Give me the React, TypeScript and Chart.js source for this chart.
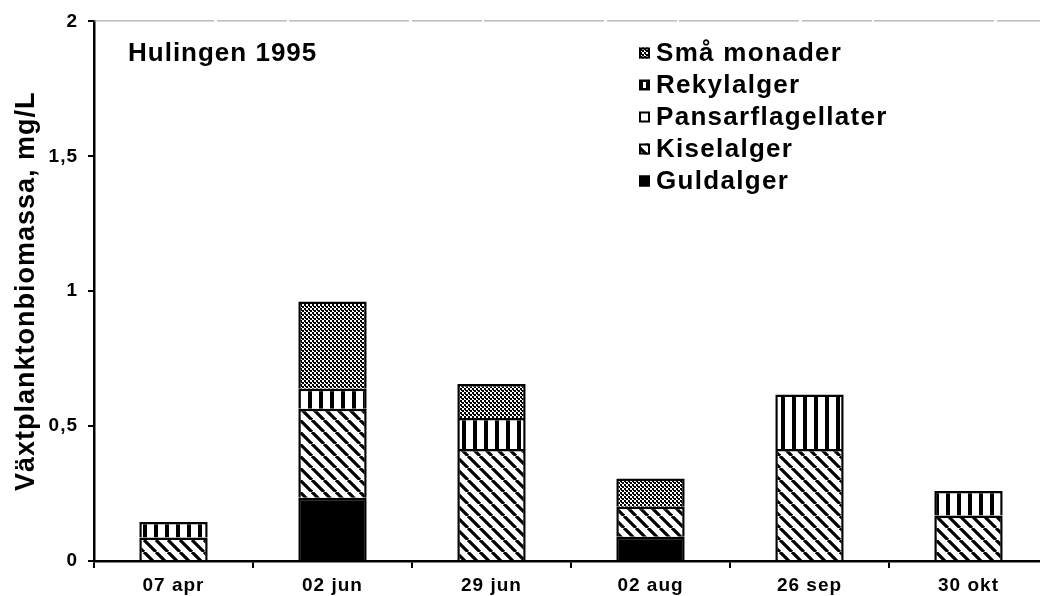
import React, { useEffect, useRef } from "react";
import { Chart, registerables } from "chart.js";

Chart.register(...registerables);

const categories = ["07 apr", "02 jun", "29 jun", "02 aug", "26 sep", "30 okt"];
const guldalger = [0, 0.234, 0, 0.09, 0, 0];
const kiselalger = [0.087, 0.33, 0.415, 0.111, 0.415, 0.169];
const pansarflagellater = [0, 0, 0, 0, 0, 0];
const rekylalger = [0.058, 0.074, 0.115, 0, 0.202, 0.09];
const smaMonader = [0, 0.324, 0.126, 0.105, 0, 0];
const seriesLabels = ["Guldalger", "Kiselalger", "Pansarflagellater", "Rekylalger", "Små monader"];
const yTickLabels = ["0", "0,5", "1", "1,5", "2"];
const yAxisTitle = "Växtplanktonbiomassa, mg/L";
const chartLabel = "Hulingen 1995";

const FONT = '"Liberation Sans", Arial, Helvetica, sans-serif';

function makePattern(ctx: CanvasRenderingContext2D, kind: string): CanvasPattern | string {
  const c = document.createElement("canvas");
  const t = c.getContext("2d") as CanvasRenderingContext2D;
  if (kind === "dots") {
    c.width = 4; c.height = 4;
    t.fillStyle = "#fff"; t.fillRect(0, 0, 4, 4);
    t.fillStyle = "#000";
    t.fillRect(0, 0, 2, 2); t.fillRect(2, 2, 2, 2);
    t.fillRect(1, 2, 1, 1);
  } else if (kind === "vstripes") {
    c.width = 11; c.height = 4;
    t.fillStyle = "#fff"; t.fillRect(0, 0, 11, 4);
    t.fillStyle = "#000"; t.fillRect(0, 0, 4, 4);
  } else if (kind === "diag") {
    c.width = 12; c.height = 12;
    t.fillStyle = "#fff"; t.fillRect(0, 0, 12, 12);
    t.strokeStyle = "#000"; t.lineWidth = 3.2;
    t.beginPath();
    for (const k of [-12, 0, 12]) { t.moveTo(k, 0); t.lineTo(k + 12, 12); }
    t.stroke();
  } else {
    return kind;
  }
  return ctx.createPattern(c, "repeat") as CanvasPattern;
}

export default function App() {
  const ref = useRef<HTMLCanvasElement | null>(null);

  useEffect(() => {
    const canvas = ref.current;
    if (!canvas) return;
    const ctx = canvas.getContext("2d") as CanvasRenderingContext2D;
    const fills = [
      makePattern(ctx, "#000"),
      makePattern(ctx, "diag"),
      makePattern(ctx, "#fff"),
      makePattern(ctx, "vstripes"),
      makePattern(ctx, "dots"),
    ];
    const series = [guldalger, kiselalger, pansarflagellater, rekylalger, smaMonader];

    const spacingPlugin = {
      id: "spacing",
      beforeUpdate(chart: any) { chart.ctx.letterSpacing = "1px"; },
      beforeDraw(chart: any) { chart.ctx.letterSpacing = "1px"; },
    };

    const decorPlugin = {
      id: "decor",
      afterDraw(chart: any) {
        const c = chart.ctx as CanvasRenderingContext2D;
        const area = chart.chartArea;
        c.save();
        // top frame line
        c.strokeStyle = "#999";
        c.lineWidth = 1;
        c.setLineDash([120, 3, 70, 2]);
        c.beginPath();
        c.moveTo(area.left, area.top - 0.5);
        c.lineTo(chart.width, area.top - 0.5);
        c.stroke();
        c.setLineDash([]);
        // label
        c.fillStyle = "#000";
        (c as any).letterSpacing = "1px";
        c.font = `bold 26px ${FONT}`;
        c.textBaseline = "middle";
        c.textAlign = "left";
        c.fillText(chartLabel, 128, 54);
        // legend
        (c as any).letterSpacing = "1.3px";
        const order = [4, 3, 2, 1, 0];
        order.forEach((di, row) => {
          const ds = chart.data.datasets[di];
          const y = 53 + row * 32;
          const bx = 639, by = y - 5.5, bs = 11;
          if (di === 3) {
            c.fillStyle = "#000"; c.fillRect(bx, by, bs, bs);
            c.fillStyle = "#fff"; c.fillRect(bx + 4, by + 2.5, 3, bs - 5);
          } else {
            c.fillStyle = ds.backgroundColor;
            c.fillRect(bx, by, bs, bs);
            c.strokeStyle = "#000"; c.lineWidth = 2;
            c.strokeRect(bx + 1, by + 1, bs - 2, bs - 2);
          }
          c.fillStyle = "#000";
          c.fillText(ds.label, 656, y + 1);
        });
        c.restore();
      },
    };

    const chart = new Chart(canvas, {
      type: "bar",
      data: {
        labels: categories,
        datasets: series.map((d, i) => ({
          label: seriesLabels[i],
          data: d,
          backgroundColor: fills[i] as any,
          borderColor: "#000",
          borderWidth: { top: 2.5, bottom: 0, left: 2.5, right: 2.5 },
          borderSkipped: false,
          categoryPercentage: 0.43,
          barPercentage: 1.0,
        })),
      },
      options: {
        responsive: false,
        animation: false,
        devicePixelRatio: 1,
        layout: { padding: { top: 21, right: 2, left: 0, bottom: 0 } },
        plugins: {
          legend: { display: false },
          tooltip: { enabled: false },
          title: { display: false },
        },
        scales: {
          x: {
            stacked: true,
            offset: true,
            grid: {
              display: true,
              offset: true,
              drawOnChartArea: false,
              drawTicks: true,
              tickLength: 7,
              color: "#000",
              lineWidth: 2,
            },
            border: { display: true, color: "#000", width: 2.5 },
            ticks: {
              color: "#000",
              font: { family: FONT, size: 19, weight: "bold" },
              padding: 6,
              maxRotation: 0,
              autoSkip: false,
            },
            afterFit: (s: any) => { s.height = 35; },
          },
          y: {
            stacked: true,
            min: 0,
            max: 2,
            ticks: {
              stepSize: 0.5,
              color: "#000",
              font: { family: FONT, size: 19, weight: "bold" },
              padding: 10,
              callback: (_v: any, i: number) => yTickLabels[i],
            },
            grid: {
              drawOnChartArea: false,
              drawTicks: true,
              tickLength: 6,
              color: "#000",
              lineWidth: 2,
            },
            border: { display: true, color: "#000", width: 2.5 },
            title: {
              display: true,
              text: yAxisTitle,
              color: "#000",
              font: { family: FONT, size: 27, weight: "bold" },
              padding: { top: 10, bottom: 0 },
            },
            afterFit: (s: any) => { s.width = 94; },
          },
        },
      },
      plugins: [spacingPlugin, decorPlugin],
    } as any);

    return () => chart.destroy();
  }, []);

  return (
    <div
      style={{
        position: "fixed",
        left: 0,
        top: 0,
        width: 1040,
        height: 596,
        overflow: "hidden",
        background: "#fff",
      }}
    >
      <canvas ref={ref} width={1050} height={596} style={{ display: "block", width: 1050, height: 596 }} />
    </div>
  );
}
